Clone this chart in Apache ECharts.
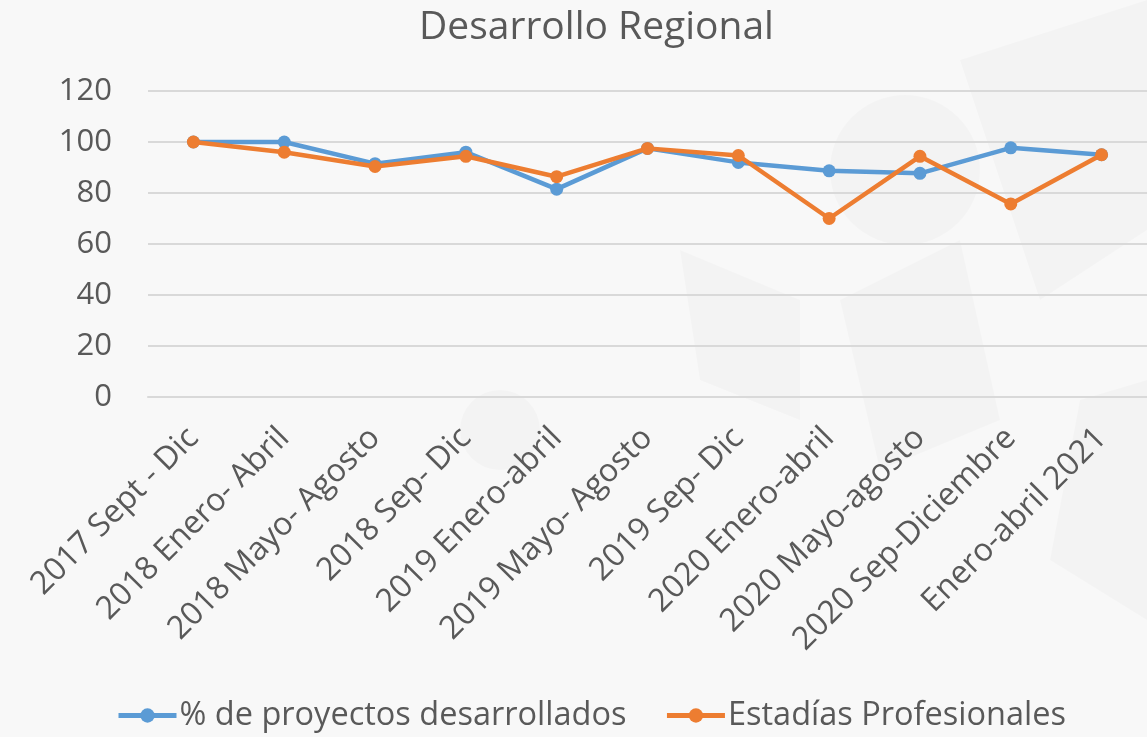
<!DOCTYPE html>
<html>
<head>
<meta charset="utf-8">
<script src="https://cdn.jsdelivr.net/npm/echarts@6/dist/echarts.min.js"></script>
<style>
  html, body { margin: 0; padding: 0; background: #f7f7f7; }
  #main { width: 1147px; height: 737px; }
</style>
</head>
<body>
<div id="main"></div>
<script>
// periods on the x axis
var periodos = [
  '2017 Sept - Dic', '2018 Enero- Abril', '2018 Mayo- Agosto', '2018 Sep- Dic',
  '2019 Enero-abril', '2019 Mayo- Agosto', '2019 Sep- Dic', '2020 Enero-abril',
  '2020 Mayo-agosto', '2020 Sep-Diciembre', 'Enero-abril 2021'
];
var proyectos = [100, 100, 91.5, 96, 81.5, 97.5, 92, 88.7, 87.7, 97.7, 95];
var estadias = [100, 96, 90.4, 94.4, 86.4, 97.5, 94.7, 70, 94.4, 75.7, 95];
var yTicks = [0, 120, 20]; // min, max, interval

var myChart = echarts.init(document.getElementById('main'));

var textColor = '#595959';
var fontName = '"Open Sans", sans-serif';
var shade = 'rgba(0,0,0,0.018)';

var option = {
    backgroundColor: '#f8f8f8',
    textStyle: { fontFamily: fontName },
    color: ['#5B9BD5', '#ED7D31'],
    // faint watermark shapes in the background
    graphic: [
        { type: 'circle', shape: { cx: 905, cy: 170, r: 75 }, style: { fill: shade }, z: -10 },
        { type: 'polygon', shape: { points: [[960, 60], [1147, 0], [1147, 230], [1040, 300]] }, style: { fill: shade }, z: -10 },
        { type: 'polygon', shape: { points: [[680, 250], [800, 300], [800, 420], [700, 380]] }, style: { fill: shade }, z: -10 },
        { type: 'polygon', shape: { points: [[840, 300], [960, 240], [1000, 420], [880, 470]] }, style: { fill: shade }, z: -10 },
        { type: 'polygon', shape: { points: [[1080, 400], [1147, 380], [1147, 620], [1050, 560]] }, style: { fill: shade }, z: -10 },
        { type: 'circle', shape: { cx: 500, cy: 430, r: 40 }, style: { fill: shade }, z: -10 }
    ],
    title: {
        text: 'Desarrollo Regional',
        left: 414,
        top: 3,
        textStyle: { color: textColor, fontSize: 39, fontWeight: 'normal', fontFamily: fontName }
    },
    legend: {
        bottom: 0,
        left: 111,
        itemWidth: 58,
        itemHeight: 18,
        itemGap: 38,
        lineStyle: { width: 5 },
        textStyle: { color: textColor, fontSize: 32.5, fontFamily: fontName, padding: [0, 0, 0, -2] },
        data: ['% de proyectos desarrollados', 'Estadías Profesionales']
    },
    grid: { left: 148, width: 1000, top: 91, height: 306, containLabel: false },
    xAxis: {
        type: 'category',
        data: periodos,
        boundaryGap: true,
        axisLine: { lineStyle: { color: '#d9d9d9', width: 2 } },
        axisTick: { show: false },
        axisLabel: {
            rotate: 45,
            interval: 0,
            margin: 36,
            color: textColor,
            fontSize: 32,
            fontFamily: fontName
        }
    },
    yAxis: {
        type: 'value',
        min: yTicks[0],
        max: yTicks[1],
        interval: yTicks[2],
        axisLine: { show: false },
        axisTick: { show: false },
        splitLine: { lineStyle: { color: '#d9d9d9', width: 2 } },
        axisLabel: { color: textColor, fontSize: 31, margin: 36, fontFamily: fontName }
    },
    series: [
        {
            name: '% de proyectos desarrollados',
            type: 'line',
            data: proyectos,
            symbol: 'circle',
            symbolSize: 13,
            lineStyle: { width: 4.5 },
            z: 2
        },
        {
            name: 'Estadías Profesionales',
            type: 'line',
            data: estadias,
            symbol: 'circle',
            symbolSize: 13,
            lineStyle: { width: 4.5 },
            z: 3
        }
    ]
};

myChart.setOption(option);
</script>
</body>
</html>
